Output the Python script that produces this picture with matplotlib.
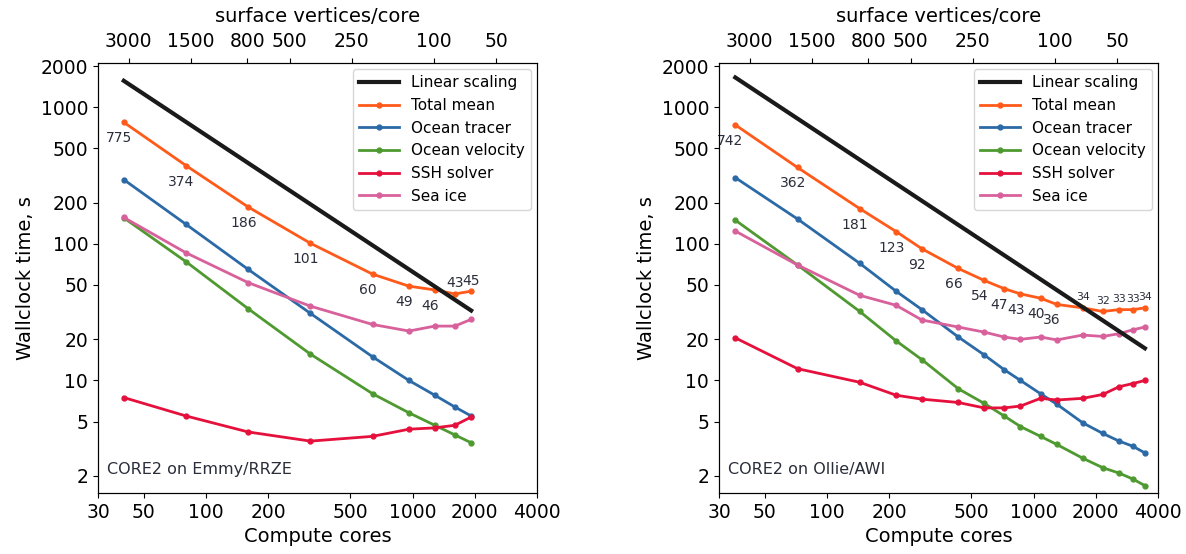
import numpy as np
import matplotlib.pyplot as plt
from matplotlib.ticker import FixedLocator, FixedFormatter, NullLocator

# surface vertices of the CORE2 mesh (top axis: vertices per core)
N_SURF = 126858
verts_ticks = [3000, 1500, 800, 500, 250, 100, 50]
core_ticks = [30, 50, 100, 200, 500, 1000, 2000, 4000]
time_ticks = [2, 5, 10, 20, 50, 100, 200, 500, 1000, 2000]

# Emmy/RRZE
cores_emmy = [40, 80, 160, 320, 640, 960, 1280, 1600, 1920]
total_emmy = [775, 374, 186, 101, 60, 49, 46, 43, 45]
tracer_emmy = [295, 139, 65, 31, 14.9, 10.0, 7.8, 6.4, 5.5]
velocity_emmy = [155, 74, 33.5, 15.6, 8.0, 5.8, 4.7, 4.0, 3.5]
ssh_emmy = [7.5, 5.5, 4.2, 3.6, 3.9, 4.4, 4.5, 4.7, 5.4]
ice_emmy = [156, 86, 52, 35, 25.7, 23, 25, 25, 28]
linear_cores_emmy = [40, 1920]
linear_emmy = [1560, 32.5]

# Ollie/AWI
cores_ollie = [36, 72, 144, 216, 288, 432, 576, 720, 864, 1080, 1296, 1728, 2160, 2592, 3024, 3456]
total_ollie = [742, 362, 181, 123, 92, 66, 54, 47, 43, 40, 36, 34, 32, 33, 33, 34]
tracer_ollie = [305, 152, 72, 45, 33, 20.8, 15.4, 12.0, 10.0, 8.0, 6.7, 4.9, 4.1, 3.6, 3.3, 2.95]
velocity_ollie = [149, 70, 32, 19.5, 14.2, 8.7, 6.8, 5.5, 4.6, 3.9, 3.4, 2.7, 2.3, 2.1, 1.9, 1.7]
ssh_ollie = [20.5, 12.2, 9.7, 7.8, 7.3, 6.9, 6.3, 6.3, 6.5, 7.4, 7.2, 7.4, 7.9, 9.0, 9.5, 10.0]
ice_ollie = [124, 70, 42, 35.5, 27.7, 24.6, 22.6, 20.8, 20, 20.8, 19.8, 21.5, 21, 22, 23.5, 24.6]
linear_cores_ollie = [36, 3456]
linear_ollie = [1650, 17.2]

nomes = ['Total mean', 'Ocean tracer', 'Ocean velocity', 'SSH solver', 'Sea ice']
cor = ['#ff5a1a', '#2b6aa6', '#4e9a30', '#e5103c', '#d8619b']

fig = plt.figure(figsize=(11.86, 5.54), dpi=100)
ax_l = fig.add_axes([0.0826, 0.110, 0.3702, 0.776])
ax_r = fig.add_axes([0.6062, 0.110, 0.3702, 0.776])

paineis = [
    (ax_l, cores_emmy, [total_emmy, tracer_emmy, velocity_emmy, ssh_emmy, ice_emmy],
     linear_cores_emmy, linear_emmy, 'CORE2 on Emmy/RRZE', 7, 10),
    (ax_r, cores_ollie, [total_ollie, tracer_ollie, velocity_ollie, ssh_ollie, ice_ollie],
     linear_cores_ollie, linear_ollie, 'CORE2 on Ollie/AWI', 11, 7.8),
]

for ax, cores, series, lc, lv, titulo, n_baixo, fs_cima in paineis:
    ax.plot(lc, lv, color='#1a1a1a', lw=3, label='Linear scaling', zorder=3)
    for i, y in enumerate(series):
        ax.plot(cores, y, color=cor[i], lw=2, marker='o', ms=3.5, label=nomes[i], zorder=2)

    # labels of the total mean
    for j, (c, v) in enumerate(zip(cores, series[0])):
        if j < n_baixo:
            ax.annotate(str(v), (c, v), xytext=(-3.5, -11.5), textcoords='offset points',
                        ha='center', va='center', fontsize=10, color='#2a2d3a', zorder=5)
        else:
            ax.annotate(str(v), (c, v), xytext=(0, 7.5), textcoords='offset points',
                        ha='center', va='center', fontsize=fs_cima, color='#2a2d3a', zorder=5)

    ax.set_xscale('log')
    ax.set_yscale('log')
    ax.set_xlim(30, 4000)
    ax.set_ylim(1.5, 2100)
    ax.xaxis.set_major_locator(FixedLocator(core_ticks))
    ax.xaxis.set_major_formatter(FixedFormatter([str(t) for t in core_ticks]))
    ax.xaxis.set_minor_locator(NullLocator())
    ax.yaxis.set_major_locator(FixedLocator(time_ticks))
    ax.yaxis.set_major_formatter(FixedFormatter([str(t) for t in time_ticks]))
    ax.yaxis.set_minor_locator(NullLocator())
    ax.tick_params(axis='both', which='major', labelsize=13.5)
    ax.set_xlabel('Compute cores', fontsize=14)
    ax.set_ylabel('Wallclock time, s', fontsize=14)
    ax.text(0.02, 0.055, titulo, transform=ax.transAxes, fontsize=11.5,
            color='#2a2d3a', ha='left', va='center')
    ax.legend(loc='upper right', fontsize=11, labelspacing=0.5, handlelength=2.6,
              borderaxespad=0.4)

    top = ax.twiny()
    top.set_xscale('log')
    top.set_xlim(30, 4000)
    top.xaxis.set_major_locator(FixedLocator([N_SURF / v for v in verts_ticks]))
    top.xaxis.set_major_formatter(FixedFormatter([str(v) for v in verts_ticks]))
    top.xaxis.set_minor_locator(NullLocator())
    top.tick_params(axis='x', which='major', labelsize=13.5, pad=5.5)
    top.set_xlabel('surface vertices/core', fontsize=14, labelpad=7)

plt.savefig('out.png', dpi=100)
